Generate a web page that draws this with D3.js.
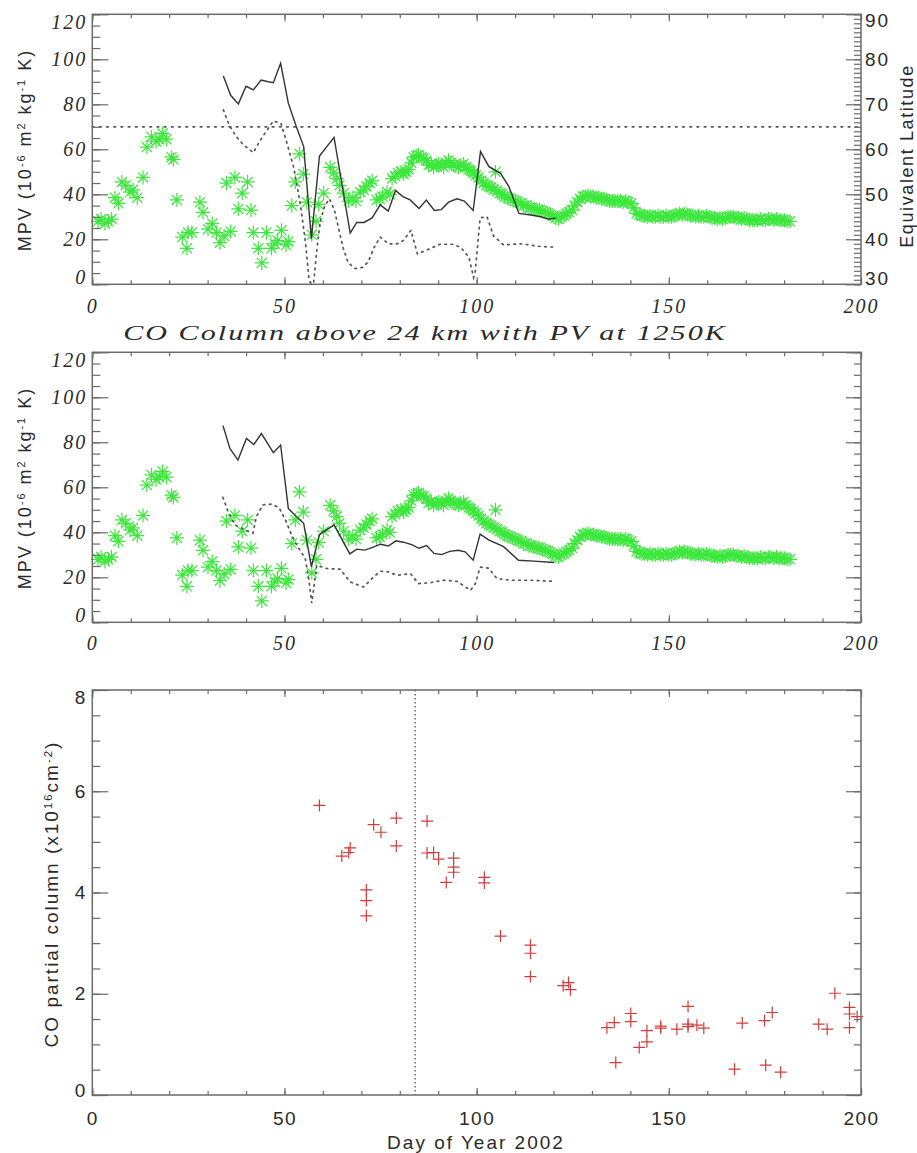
<!DOCTYPE html>
<html><head><meta charset="utf-8">
<script src="https://cdn.jsdelivr.net/npm/d3@7"></script>
<style>body{margin:0;background:#fff}svg{display:block}</style>
</head><body>
<script>
// ---------------- DATA ----------------
const xMajor = [0, 50, 100, 150, 200];
const xMinor = d3.range(0, 201, 10);
const mpvMajor = [0, 20, 40, 60, 80, 100, 120];
const mpvMinor = d3.range(0, 121, 5);
const latMajor = [30, 40, 50, 60, 70, 80, 90];
const latMinor = d3.range(30, 91, 1);
const coMajor = [0, 2, 4, 6, 8];
const coMinor = d3.range(0, 8.01, 0.5);

// MPV at vortex edge (green asterisks), day of year / value
const greenDay = [1.5,2.3,3.3,4.2,5.0,5.9,6.8,7.7,8.7,9.8,10.6,11.7,13.2,14.2,15.4,16.6,17.4,18.3,19.3,20.6,21.1,
 22.0,23.4,24.6,24.9,25.9,28.0,28.8,30.1,31.2,32.3,33.2,34.3,34.9,36.0,37.1,38.0,39.0,40.4,41.3,41.9,43.2,44.1,45.3,46.6,47.5,48.2,49.2,50.4,51.0,
 51.9,52.8,53.9,54.9,55.8,57.1,58.2,58.9,60.2,61.9,62.8,63.6,64.3,65.4,66.7,67.8,68.6,69.7,70.6,71.3,72.2,72.8,74.0,74.8,75.5,76.7,77.4,78.0,78.8,79.5,80.3,81.0,81.7,82.3,83.0,83.6,84.3,84.9,85.6,86.2,86.9,87.5,88.2,88.8,89.5,90.1,90.8,91.4,92.0,92.7,93.3,94.0,94.6,95.3,95.9,96.6,97.2,97.9,98.5,99.2,99.8,100.5,
 101.2,101.8,102.5,103.2,103.8,104.5,104.9,105.3,106.0,106.6,107.3,108.0,108.7,109.4,110.1,110.8,111.5,112.2,112.9,113.6,114.3,115.0,115.7,116.4,117.1,117.8,118.5,119.2,119.9,120.6,121.3,122.0,122.7,123.4,124.1,124.8,125.5,126.2,126.9,127.6,128.3,129.0,129.7,130.4,131.1,131.8,132.5,133.2,133.9,134.6,135.3,136.0,136.7,137.4,138.1,138.8,139.5,140.2,140.9,141.6,142.3,143.0,143.7,144.4,145.1,145.8,146.5,147.2,147.9,148.6,149.3,150.0,150.7,151.4,152.1,152.8,153.5,154.2,154.9,155.6,156.3,157.0,157.7,158.4,159.1,159.8,160.5,161.2,161.9,162.6,163.3,164.0,164.7,165.4,166.1,166.8,167.5,168.2,168.9,169.6,170.3,171.0,171.7,172.4,173.1,173.8,174.5,175.2,175.9,176.6,177.3,178.0,178.7,179.4,180.1,180.8,181.5];
const greenMPV = [28,29,27,28,29,38.5,36,45.5,44,41,42,38.5,47.5,61,65.5,63.5,64.5,67,64.5,56.5,55.5,
 37.5,21,16,23,23,36.5,32,24.5,27,23,18.5,21.5,45,23.5,47.5,33.5,40.5,45.5,33,23,16,9.5,23,16,18,19.5,24,17.5,19,
 35,45.5,58,49,36.5,22,28,35.5,40.5,52,49.5,47,44,40.5,37,38.5,37,41,42,43.5,45,46,37.5,38,39,41,40,47,48,49.5,50,49,50,51,54,56.5,57,57.5,56.5,56,55,53,53.5,52,53,53.5,53,52,54,55,54,53,52.5,52,53,53.5,52,51,50.5,49.5,48.5,47.5,
 46,45,44,43.5,43,42,50,41.5,40.5,40,39,38.5,38,37.5,37,36.5,36,35,35,34,34,33.5,33,33,32.5,32,31.5,31,30.5,29.5,29,30,30.5,31.5,32,33,35,36.5,38,39,39,39.5,39,39,38.5,38.5,38,38,37.5,37,37,37,37,37,36.5,37,36.5,36,34,31.5,31,30.5,30.5,30,30.5,30,30,30.5,30,30,30.5,30,30,30.5,31,31.5,31,31.5,31,30.5,30.5,30,30.5,30,30,30.5,30,29.5,29.5,29,29.5,29,29.5,30,30,30,29.5,29.5,29,29.5,29,28.5,28.5,28.5,28.5,29,28.5,28.5,29,29,28.5,29,28.5,28.5,28.5,28,28];

// Top panel: solid line (MPV) and dotted line (equivalent latitude, plotted on MPV scale)
const topSolidDay = [34.1,36.0,38.0,40.0,41.9,43.9,45.8,47.1,49.0,51.0,53.0,55.0,57.0,59.1,62.9,67.1,68.8,70.7,72.8,74.9,77.0,78.9,80.8,82.7,85.0,86.9,89.0,90.8,92.7,94.9,96.8,99.1,101.0,103.2,106.2,108.4,111.0,114.1,116.7,118.8,120.6];
const topSolidMPV = [92.6,84,80.2,88,86.4,90.8,90,89.6,98.2,80.5,70.5,61.2,20.2,57,65.3,22.8,27.5,27.5,29.5,35.3,32.5,41.7,39,37.5,33.7,37.4,32.8,33.2,36.5,38,37,32.8,59,52.3,49.3,43.4,31.5,30.8,30,29,29.4];
const topDotDay = [34.1,35.6,37.5,39.3,41.9,43.2,44.9,47.1,49.1,50.6,52.4,54.2,55.5,56.4,57.0,57.6,58.4,59.3,60.5,61.7,63.0,64.2,65.3,66.6,68.4,70.3,71.8,73.2,74.9,77.0,79.3,81.0,82.9,84.6,87.1,90.5,93.6,95.8,98.0,99.2,99.6,100.9,102.7,104.4,107.0,111.3,113.9,116.5,120.4];
const topDotMPV = [77.5,70.8,65.6,62,58.5,62.6,67.1,72.6,71.5,63,52,35,18,2,0,1,15,28,35,38,33,24,16,9.5,7,7.5,10,16,21,18,18,19.5,24,13.5,15.3,17.8,17.8,16.5,12,3,5,29.5,30,21.5,17.5,18,17.5,16.8,16.5];
const refMPV = 70;

// Middle panel: PV at 1250K
const midSolidDay = [34.0,35.8,37.9,40.1,42.0,44.0,47.1,49.0,51.0,52.8,55.0,57.0,59.1,62.9,67.0,68.8,70.9,73.1,75.0,77.0,79.0,80.9,83.1,85.0,87.0,88.9,90.9,93.0,95.2,97.0,99.1,100.9,103.1,107.0,110.9,114.9,120.1];
const midSolidMPV = [87.4,77.3,72.1,81.7,79,83.9,75.4,78.8,50.6,47.5,44,24.7,39,43.3,30.4,32.5,32.1,33.4,34.7,33.9,36.2,35.6,34.5,32.9,34.1,30.6,30.1,31.5,32,31.3,27.6,39.2,36.6,33.6,27.6,27.2,26.6];
const midDotDay = [34.0,35.3,37.1,39.7,41.8,42.7,44.4,46.6,48.6,50.4,51.8,53.2,55.4,56.3,57.1,57.6,58.4,61.0,64.5,67.1,70.6,72.8,74.9,77.1,79.3,82.8,84.9,87.9,91.4,94.9,98.4,99.6,100.9,103.1,105.3,108.8,114.0,120.1];
const midDotMPV = [55.5,49.2,43.3,41.1,39.6,47,52.2,52.5,51,45,39,34.3,28.4,19.5,8.5,15,25.4,23.9,23.6,17.9,15.7,19.5,22.7,22.4,20.9,21.6,17.2,17.6,18.7,18.2,14.2,17,24.5,24.1,19.4,18.7,18.7,18.2];

// Bottom panel: CO partial column (x10^16 cm^-2)
const coDay = [59.1,64.9,66.7,67.1,71.3,71.3,71.3,73.2,75.1,79.1,79.1,87.1,87.1,88.8,90.1,92.1,94.0,94.0,94.0,102.0,102.0,106.2,114.0,114.0,114.0,122.5,123.9,124.4,133.9,135.8,136.2,140.1,140.1,142.3,144.3,144.3,147.9,147.9,152.1,155.0,155.0,155.0,157.3,159.1,167.1,169.1,174.9,175.2,176.9,179.1,189.0,191.2,193.2,197.0,197.0,197.0,199.0];
const coVal = [5.72,4.72,4.79,4.88,4.05,3.84,3.54,5.34,5.19,5.47,4.92,5.41,4.78,4.79,4.66,4.20,4.68,4.50,4.40,4.30,4.19,3.14,2.96,2.80,2.34,2.16,2.22,2.08,1.33,1.43,0.64,1.61,1.45,0.94,1.27,1.05,1.36,1.32,1.30,1.75,1.40,1.35,1.38,1.32,0.51,1.42,1.47,0.59,1.63,0.45,1.40,1.30,2.01,1.73,1.60,1.33,1.55];
const vortexDay = 84;

// ---------------- DRAWING ----------------
const W = 917, H = 1153;
const FRAME = "#6b6b6b", INK = "#2a2a2a", GREEN = "#3be83b", RED = "#d23c3c";
const svg = d3.select("body").append("svg").attr("width", W).attr("height", H);

const x = d3.scaleLinear().domain([0, 200]).range([92.3, 861]);
const y1 = d3.scaleLinear().domain([0, 120]).range([284.3, 14.3]);
const yLat = d3.scaleLinear().domain([30, 90]).range([284.3, 14.3]);
const y2 = d3.scaleLinear().domain([0, 120]).range([622.3, 352.3]);
const y3 = d3.scaleLinear().domain([0, 8]).range([1095, 690]);

const serifIt = {family: "'Liberation Serif','DejaVu Serif',serif", style: "italic", size: 20, ls: 2};
const sans = {family: "'Liberation Sans','DejaVu Sans',Arial,sans-serif", style: "normal", size: 19, ls: 1.5};

function tickG(gen, tr, font) {
  const a = svg.append("g").attr("transform", tr).call(gen);
  a.select(".domain").remove();
  a.selectAll("line").attr("stroke", FRAME).attr("stroke-width", 1.2);
  if (font) a.selectAll("text").attr("font-family", font.family).attr("font-style", font.style)
    .attr("font-size", font.size).attr("letter-spacing", font.ls).attr("fill", INK);
  return a;
}
function shiftEnds(a, lo, hi, dlo, dhi) {
  a.selectAll(".tick").filter(d => d === lo).select("text").attr("transform", `translate(0,${dlo})`);
  a.selectAll(".tick").filter(d => d === hi).select("text").attr("transform", `translate(0,${dhi})`);
}

function frame(y) {
  const [b, t] = y.range();
  svg.append("rect").attr("x", x.range()[0]).attr("y", t).attr("width", x.range()[1] - x.range()[0])
    .attr("height", b - t).attr("fill", "none").attr("stroke", FRAME).attr("stroke-width", 1.5);
}

function xAxes(y, font, pad) {
  const [b, t] = y.range();
  tickG(d3.axisBottom(x).tickValues(xMajor).tickSize(-7).tickPadding(pad).tickFormat(d3.format("d")), `translate(0,${b})`, font);
  tickG(d3.axisBottom(x).tickValues(xMinor).tickSize(-4).tickFormat(""), `translate(0,${b})`);
  tickG(d3.axisTop(x).tickValues(xMajor).tickSize(-7).tickFormat(""), `translate(0,${t})`);
  tickG(d3.axisTop(x).tickValues(xMinor).tickSize(-4).tickFormat(""), `translate(0,${t})`);
}

function yAxes(y, major, minor, font, pad, labelRight, yr, rMajor, rMinor) {
  const L = x.range()[0], R = x.range()[1];
  const a = tickG(d3.axisLeft(y).tickValues(major).tickSize(-16).tickPadding(pad).tickFormat(d3.format("d")), `translate(${L},0)`, font);
  tickG(d3.axisLeft(y).tickValues(minor).tickSize(-8).tickFormat(""), `translate(${L},0)`);
  const yy = yr || y;
  const rm = rMajor || major, rn = rMinor || minor;
  const r = tickG(d3.axisRight(yy).tickValues(rm).tickSize(-15).tickPadding(4).tickFormat(labelRight ? d3.format("d") : ""), `translate(${R},0)`, labelRight ? {family: sans.family, style: "normal", size: 19, ls: 2} : null);
  tickG(d3.axisRight(yy).tickValues(rn).tickSize(-7).tickFormat(""), `translate(${R},0)`);
  return [a, r];
}

function asterisk(g, xs, ys, yScale) {
  const r = 7, d = r * 0.72;
  g.selectAll("path.ast").data(xs.map((v, i) => [v, ys[i]])).join("path")
    .attr("d", p => { const cx = x(p[0]), cy = yScale(p[1]);
      return `M${cx - r},${cy}H${cx + r}M${cx},${cy - r}V${cy + r}M${cx - d},${cy - d}L${cx + d},${cy + d}M${cx - d},${cy + d}L${cx + d},${cy - d}`; })
    .attr("stroke", GREEN).attr("stroke-width", 1.2).attr("fill", "none");
}
function line(xs, ys, yScale, dotted) {
  const gen = d3.line().x(p => x(p[0])).y(p => yScale(p[1]));
  svg.append("path").attr("d", gen(xs.map((v, i) => [v, ys[i]])))
    .attr("fill", "none").attr("stroke", dotted ? "#555" : "#333")
    .attr("stroke-width", dotted ? 1.7 : 1.4)
    .attr("stroke-dasharray", dotted ? "1.6,4.6" : null)
    .attr("stroke-linecap", dotted ? "round" : "butt");
}

// ---- Panel 1 ----
asterisk(svg.append("g"), greenDay, greenMPV, y1);
line(topSolidDay, topSolidMPV, y1, false);
line(topDotDay, topDotMPV, y1, true);
svg.append("line").attr("x1", x(0)).attr("x2", x(200)).attr("y1", y1(refMPV)).attr("y2", y1(refMPV))
  .attr("stroke", "#555").attr("stroke-width", 1.7).attr("stroke-dasharray", "1.6,5.6").attr("stroke-linecap", "round");
frame(y1);
xAxes(y1, serifIt, 15);
{
  const [a, r] = yAxes(y1, mpvMajor, mpvMinor, serifIt, 5, true, yLat, latMajor, latMinor);
  shiftEnds(a, 0, 120, -7, 7.5);
  shiftEnds(r, 30, 90, -6, 6);
}

// ---- Panel 2 ----
asterisk(svg.append("g"), greenDay, greenMPV, y2);
line(midSolidDay, midSolidMPV, y2, false);
line(midDotDay, midDotMPV, y2, true);
frame(y2);
xAxes(y2, serifIt, 13.5);
{
  const [a] = yAxes(y2, mpvMajor, mpvMinor, serifIt, 5, false);
  shiftEnds(a, 0, 120, -7, 7.5);
}
{
  const title = svg.append("text").attr("x", 0).attr("y", 0).attr("text-anchor", "middle")
    .attr("font-family", serifIt.family).attr("font-style", "italic").attr("font-size", 22)
    .attr("letter-spacing", 1.5).attr("fill", INK)
    .text("CO Column above 24 km with PV at 1250K");
  const w = title.node().getComputedTextLength();
  const sx = 604 / w;
  title.attr("transform", `translate(425,340) scale(${sx},1)`);
}

// ---- Panel 3 ----
svg.append("line").attr("x1", x(vortexDay)).attr("x2", x(vortexDay)).attr("y1", y3(8)).attr("y2", y3(0))
  .attr("stroke", "#444").attr("stroke-width", 1.2).attr("stroke-dasharray", "1.5,2.5");
svg.append("g").selectAll("path").data(coDay.map((v, i) => [v, coVal[i]])).join("path")
  .attr("d", p => { const cx = x(p[0]), cy = y3(p[1]), r = 6; return `M${cx - r},${cy}H${cx + r}M${cx},${cy - r}V${cy + r}`; })
  .attr("stroke", RED).attr("stroke-width", 1.2).attr("fill", "none");
frame(y3);
xAxes(y3, sans, 16.3);
{
  const [a] = yAxes(y3, coMajor, coMinor, sans, 5.5, false);
  shiftEnds(a, 0, 8, -5, 7.7);
}

// ---- Axis titles ----
function vLabel(cx, cy, parts, size, ls) {
  const t = svg.append("text").attr("transform", `translate(${cx},${cy}) rotate(-90)`)
    .attr("text-anchor", "middle").attr("font-family", sans.family).attr("font-size", size)
    .attr("letter-spacing", ls).attr("fill", INK);
  parts.forEach(p => {
    const s = t.append("tspan").text(p[0]);
    if (p[1]) s.attr("font-size", size * 0.6).attr("baseline-shift", "super");
  });
  return t;
}
const mpvLabel = [["MPV (10"], ["-6", 1], [" m"], ["2", 1], [" kg"], ["-1", 1], [" K)"]];
vLabel(31, 150, mpvLabel, 18, 2);
vLabel(31, 488, mpvLabel, 18, 2);
vLabel(913, 156, [["Equivalent Latitude"]], 18, 1.6);
vLabel(58, 894, [["CO partial column (x10"], ["16", 1], ["cm"], ["-2", 1], [")"]], 19, 2);
svg.append("text").attr("x", 476).attr("y", 1149).attr("text-anchor", "middle")
  .attr("font-family", sans.family).attr("font-size", 19).attr("letter-spacing", 2).attr("fill", INK)
  .text("Day of Year 2002");
</script>
</body></html>
